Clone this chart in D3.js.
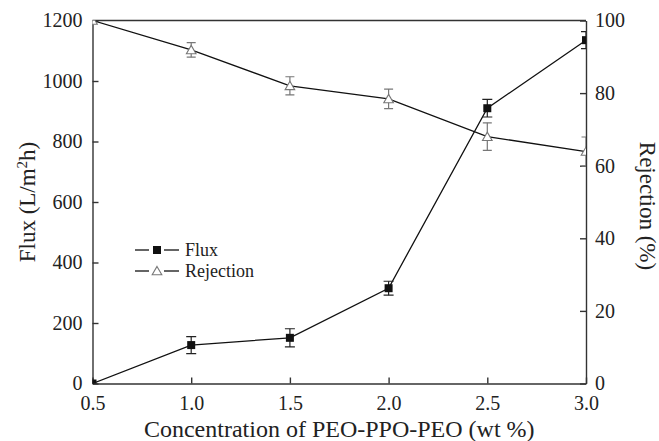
<!DOCTYPE html>
<html>
<head>
<meta charset="utf-8">
<script src="https://cdn.jsdelivr.net/npm/d3@7"></script>
<style>
  body { margin: 0; background: #fff; }
  svg { display: block; }
  svg text { font-family: "Liberation Serif", "Times New Roman", Times, serif; }
  .axis path, .axis line { stroke: #333; stroke-width: 1.4px; }
  .axis text { font-size: 20px; fill: #222; }
</style>
</head>
<body>
<svg id="chart" width="659" height="441"></svg>
<script>
// concentration of PEO-PPO-PEO (wt %)
const concentration = [0.5, 1.0, 1.5, 2.0, 2.5, 3.0];
// flux (L/m2h) and its error bars
const flux = [0, 127, 151, 315, 910, 1135];
const fluxErr = [0, 28, 30, 23, 29, 28];
// rejection (%) and its error bars
const rejection = [100, 91.9, 82.0, 78.4, 68.0, 63.9];
const rejectionErr = [0, 2, 2.5, 2.7, 3.8, 4];

const xTicks = [0.5, 1.0, 1.5, 2.0, 2.5, 3.0];
const fluxTicks = [0, 200, 400, 600, 800, 1000, 1200];
const rejTicks = [0, 20, 40, 60, 80, 100];

const SERIF = '"Liberation Serif", "Times New Roman", Times, serif';

const margin = {top: 20.5, right: 73, bottom: 57.5, left: 92.5};
const width = 659 - margin.left - margin.right;
const height = 441 - margin.top - margin.bottom;

const svg = d3.select("#chart");
const g = svg.append("g").attr("transform", `translate(${margin.left},${margin.top})`);

const x = d3.scaleLinear().domain([0.5, 3.0]).range([0, width]);
const yFlux = d3.scaleLinear().domain([0, 1200]).range([height, 0]);
const yRej = d3.scaleLinear().domain([0, 100]).range([height, 0]);

// axes, ticks pointing inward
g.append("g").attr("class", "axis")
  .attr("transform", `translate(0,${height})`)
  .call(d3.axisBottom(x).tickValues(xTicks).tickFormat(d3.format(".1f"))
    .tickSizeInner(-6).tickSizeOuter(0).tickPadding(12))
  .attr("font-family", SERIF).attr("font-size", 20);

g.append("g").attr("class", "axis")
  .call(d3.axisLeft(yFlux).tickValues(fluxTicks).tickFormat(d3.format("d"))
    .tickSizeInner(-6).tickSizeOuter(0).tickPadding(10))
  .attr("font-family", SERIF).attr("font-size", 20);

g.append("g").attr("class", "axis")
  .attr("transform", `translate(${width},0)`)
  .call(d3.axisRight(yRej).tickValues(rejTicks).tickFormat(d3.format("d"))
    .tickSizeInner(-6).tickSizeOuter(0).tickPadding(9))
  .attr("font-family", SERIF).attr("font-size", 20);

g.append("line")
  .attr("x1", 0).attr("x2", width).attr("y1", 0).attr("y2", 0)
  .style("stroke", "#333").style("stroke-width", "1.4px");

// clip data to the plot frame
svg.append("defs").append("clipPath").attr("id", "plotClip")
  .append("rect").attr("width", width).attr("height", height);

const plot = g.append("g").attr("clip-path", "url(#plotClip)");

const fluxData = concentration.map((c, i) => ({x: c, y: flux[i], e: fluxErr[i]}));
const rejData = concentration.map((c, i) => ({x: c, y: rejection[i], e: rejectionErr[i]}));

// lines
plot.append("path").datum(rejData)
  .attr("fill", "none").attr("stroke", "#111").attr("stroke-width", 1.3)
  .attr("d", d3.line().x(d => x(d.x)).y(d => yRej(d.y)));

plot.append("path").datum(fluxData)
  .attr("fill", "none").attr("stroke", "#111").attr("stroke-width", 1.3)
  .attr("d", d3.line().x(d => x(d.x)).y(d => yFlux(d.y)));

// error bars
const errBars = (data, yScale, color, capW) => {
  const eb = plot.append("g").selectAll("g").data(data.filter(d => d.e > 0)).enter().append("g")
    .attr("stroke", color).attr("stroke-width", 1.2);
  eb.append("line")
    .attr("x1", d => x(d.x)).attr("x2", d => x(d.x))
    .attr("y1", d => yScale(d.y - d.e)).attr("y2", d => yScale(d.y + d.e));
  eb.append("line")
    .attr("x1", d => x(d.x) - capW).attr("x2", d => x(d.x) + capW)
    .attr("y1", d => yScale(d.y + d.e)).attr("y2", d => yScale(d.y + d.e));
  eb.append("line")
    .attr("x1", d => x(d.x) - capW).attr("x2", d => x(d.x) + capW)
    .attr("y1", d => yScale(d.y - d.e)).attr("y2", d => yScale(d.y - d.e));
};
errBars(rejData, yRej, "#777", 4.5);
errBars(fluxData, yFlux, "#222", 5);

// markers
const tri = d3.symbol().type(d3.symbolTriangle).size(40);
plot.selectAll("path.tri").data(rejData).enter().append("path")
  .attr("class", "tri")
  .attr("transform", d => `translate(${x(d.x)},${yRej(d.y) + 1})`)
  .attr("d", tri)
  .attr("fill", "#fff").attr("stroke", "#777").attr("stroke-width", 1.1);

plot.selectAll("rect.sq").data(fluxData).enter().append("rect")
  .attr("class", "sq")
  .attr("x", d => x(d.x) - 4).attr("y", d => yFlux(d.y) - 4)
  .attr("width", 8).attr("height", 8)
  .attr("fill", "#111");

// axis titles
svg.append("text")
  .attr("transform", `translate(${margin.left + width / 2},437)`)
  .attr("text-anchor", "middle")
  .style("font-size", "24px").style("fill", "#222")
  .text("Concentration of PEO-PPO-PEO (wt %)");

const yTitle = svg.append("text")
  .attr("transform", `translate(35,${margin.top + height / 2}) rotate(-90)`)
  .attr("text-anchor", "middle")
  .style("font-size", "23px").style("fill", "#222");
yTitle.append("tspan").text("Flux (L/m");
yTitle.append("tspan").attr("dy", -8).style("font-size", "15px").text("2");
yTitle.append("tspan").attr("dy", 8).text("h)");

svg.append("text")
  .attr("transform", `translate(640,${margin.top + height / 2 + 4}) rotate(90)`)
  .attr("text-anchor", "middle")
  .style("font-size", "23px").style("fill", "#222")
  .text("Rejection (%)");

// legend
const legendItems = ["Flux", "Rejection"];
const legend = svg.append("g").attr("transform", "translate(135,250)");
const rows = legend.selectAll("g").data(legendItems).enter().append("g")
  .attr("transform", (d, i) => `translate(0,${i * 21})`);
rows.append("line").attr("x1", 0).attr("x2", 14).attr("y1", 0).attr("y2", 0)
  .attr("stroke", "#111").attr("stroke-width", 1.3);
rows.append("line").attr("x1", 29).attr("x2", 44).attr("y1", 0).attr("y2", 0)
  .attr("stroke", "#111").attr("stroke-width", 1.3);
rows.filter(d => d === "Flux").append("rect")
  .attr("x", 18).attr("y", -4).attr("width", 8).attr("height", 8)
  .attr("fill", "#111");
rows.filter(d => d === "Rejection").append("path")
  .attr("transform", "translate(22,1)")
  .attr("d", tri)
  .attr("fill", "#fff").attr("stroke", "#777").attr("stroke-width", 1.1);
rows.append("text")
  .attr("x", 50).attr("y", 6)
  .style("font-size", "18px").style("fill", "#222")
  .text(d => d);
</script>
</body>
</html>
